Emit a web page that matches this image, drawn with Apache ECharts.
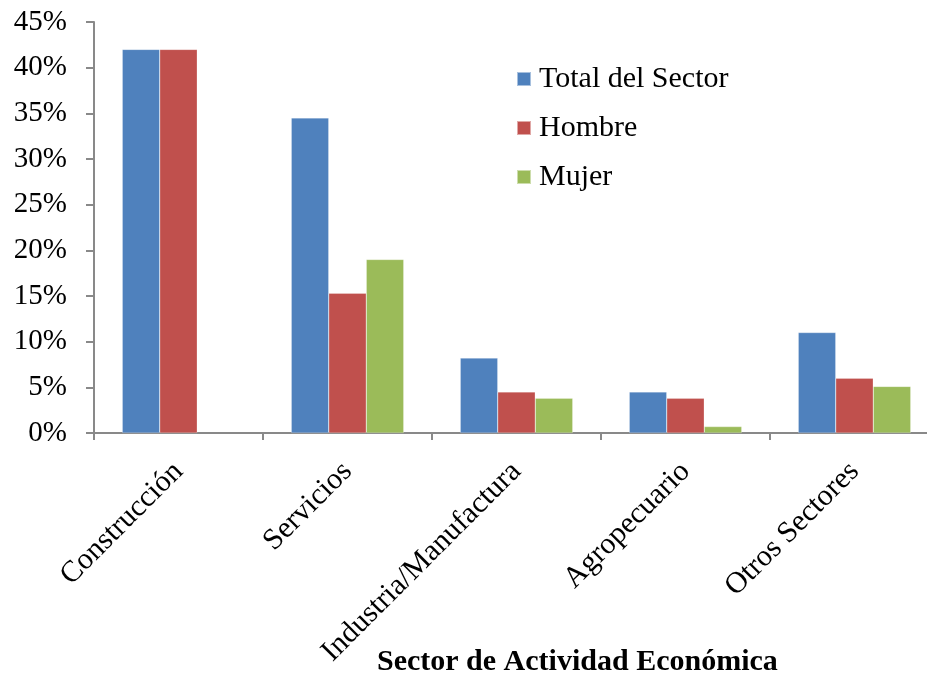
<!DOCTYPE html>
<html>
<head>
<meta charset="utf-8">
<script src="https://cdn.jsdelivr.net/npm/echarts@6/dist/echarts.min.js"></script>
<style>
  html, body { margin: 0; padding: 0; background: #fff; }
  #chart { width: 927px; height: 679px; }
</style>
</head>
<body>
<div id="chart"></div>
<script>
  // datos
  const categories = ["Construcción", "Servicios", "Industria/Manufactura", "Agropecuario", "Otros Sectores"];
  const totalSector = [42.0, 34.5, 8.2, 4.5, 11.0];
  const hombre = [42.0, 15.3, 4.5, 3.8, 6.0];
  const mujer = [null, 19.0, 3.8, 0.7, 5.1];
  const legendNames = ["Total del Sector", "Hombre", "Mujer"];

  const font = "Liberation Serif";
  const axisColor = "#898989";

  let myChart = echarts.init(document.getElementById("chart"));
  let option = {
    color: ["#4F81BD", "#C0504D", "#9BBB59"],
    textStyle: { fontFamily: font, color: "#000" },
    title: {
      text: "Sector de Actividad Económica",
      left: 377,
      top: 647,
      padding: 0,
      textStyle: { fontFamily: font, fontWeight: "bold", fontSize: 30, color: "#000" },
    },
    legend: {
      orient: "vertical",
      left: 516,
      top: 64,
      padding: 0,
      itemWidth: 14,
      itemHeight: 14,
      itemGap: 19,
      icon: "rect",
      data: legendNames,
      textStyle: { fontFamily: font, fontSize: 30, color: "#000", padding: [0, 0, 0, 3] },
    },
    grid: {
      left: 94,
      top: 22,
      bottom: 246,
      width: 845,
      outerBoundsMode: "none",
    },
    xAxis: {
      type: "category",
      data: categories,
      axisLine: { lineStyle: { color: axisColor, width: 2 } },
      axisTick: { show: true, length: 7, lineStyle: { color: axisColor, width: 2 } },
      axisLabel: {
        rotate: 45,
        interval: 0,
        margin: 34,
        fontFamily: font,
        fontSize: 30,
        color: "#000",
      },
    },
    yAxis: {
      type: "value",
      min: 0,
      max: 45,
      interval: 5,
      splitLine: { show: false },
      axisLine: { show: true, lineStyle: { color: axisColor, width: 2 } },
      axisTick: { show: true, length: 8, lineStyle: { color: axisColor, width: 2 } },
      axisLabel: {
        formatter: "{value}%",
        margin: 27,
        fontFamily: font,
        fontSize: 29,
        color: "#000",
      },
    },
    series: [
      { name: legendNames[0], type: "bar", data: totalSector, barWidth: 37.5, barGap: "0%",
        itemStyle: { borderColor: "rgba(255,255,255,0.5)", borderWidth: 0.5 } },
      { name: legendNames[1], type: "bar", data: hombre, barWidth: 37.5, barGap: "0%",
        itemStyle: { borderColor: "rgba(255,255,255,0.5)", borderWidth: 0.5 } },
      { name: legendNames[2], type: "bar", data: mujer, barWidth: 37.5, barGap: "0%",
        itemStyle: { borderColor: "rgba(255,255,255,0.5)", borderWidth: 0.5 } },
    ],
    animation: false,
  };
  myChart.setOption(option);
</script>
</body>
</html>
